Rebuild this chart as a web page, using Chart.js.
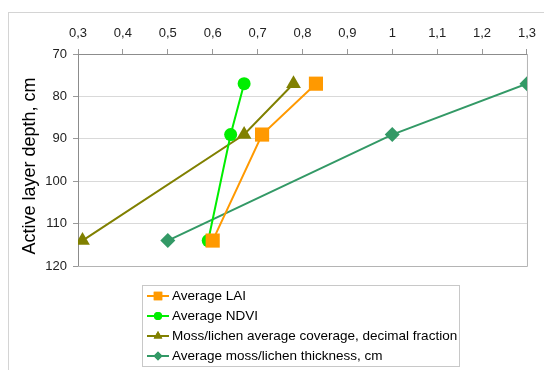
<!DOCTYPE html>
<html>
<head>
<meta charset="utf-8">
<script src="https://cdn.jsdelivr.net/npm/chart.js@4.4.1/dist/chart.umd.min.js"></script>
<style>
  html, body { margin: 0; padding: 0; background: #fff; }
  #wrap { position: relative; width: 544px; height: 370px; }
</style>
</head>
<body>
<div id="wrap"><canvas id="c" width="544" height="370"></canvas></div>
<script>
// Active layer depth (cm) at the three sites
const depths = [77, 89, 114];

// Vegetation / cover indicators at each depth
const avgLAI = [0.83, 0.71, 0.60];
const avgNDVI = [0.67, 0.64, 0.59];
const mossCoverage = [0.78, 0.67, 0.31];
const mossThickness = [1.3, 1.0, 0.5];

const seriesNames = [
  'Average LAI',
  'Average NDVI',
  'Moss/lichen average coverage, decimal fraction',
  'Average moss/lichen thickness, cm'
];

const yTitle = 'Active layer depth, cm';

const xTicks = { min: 0.3, max: 1.3, step: 0.1 };
const yTicks = { min: 70, max: 120, step: 10 };

const toPoints = vals => vals.map((v, i) => ({ x: v, y: depths[i] }));

const styles = [
  { color: '#FF9900', pointStyle: 'rect', pointRadius: 10, legendRadius: 6 },
  { color: '#00EE00', pointStyle: 'circle', pointRadius: 6.5, legendRadius: 4 },
  { color: '#808000', pointStyle: 'triangle', pointRadius: 8.5, legendRadius: 5 },
  { color: '#339966', pointStyle: 'rectRot', pointRadius: 7.5, legendRadius: 4.5 }
];

const seriesValues = [avgLAI, avgNDVI, mossCoverage, mossThickness];

const datasets = seriesValues.map((vals, i) => ({
  label: seriesNames[i],
  data: toPoints(vals),
  borderColor: styles[i].color,
  backgroundColor: styles[i].color,
  borderWidth: 2,
  pointStyle: styles[i].pointStyle,
  pointRadius: styles[i].pointRadius,
  pointHoverRadius: styles[i].pointRadius,
  pointBorderWidth: 0,
  legendRadius: styles[i].legendRadius,
  tension: 0
}));

const FONT = '"Liberation Sans", Arial, sans-serif';

// Outer frame, plot border, axis title and the boxed legend below the plot
const framePlugin = {
  id: 'frame',
  beforeDraw(chart) {
    const ctx = chart.ctx;
    ctx.save();
    ctx.strokeStyle = '#d4d4d4';
    ctx.lineWidth = 1;
    ctx.strokeRect(8.5, 12.5, 700, 500);
    ctx.restore();
  },
  beforeDatasetsDraw(chart) {
    const { ctx, chartArea: a } = chart;
    ctx.save();
    ctx.strokeStyle = '#b4b4b4';
    ctx.lineWidth = 1;
    ctx.beginPath();
    ctx.moveTo(a.right + 0.5, a.top);
    ctx.lineTo(a.right + 0.5, a.bottom + 0.5);
    ctx.lineTo(a.left, a.bottom + 0.5);
    ctx.stroke();
    ctx.restore();
  },
  afterDraw(chart) {
    const ctx = chart.ctx;
    ctx.save();
    // vertical axis title
    ctx.translate(30, 166);
    ctx.rotate(-Math.PI / 2);
    ctx.font = '18px ' + FONT;
    ctx.fillStyle = '#000';
    ctx.textAlign = 'center';
    ctx.textBaseline = 'middle';
    ctx.fillText(yTitle, 0, 0);
    ctx.restore();

    const box = { x: 142.5, y: 285.5, w: 317, h: 81 };
    ctx.save();
    ctx.fillStyle = '#fff';
    ctx.fillRect(box.x, box.y, box.w, box.h);
    ctx.strokeStyle = '#c8c8c8';
    ctx.lineWidth = 1;
    ctx.strokeRect(box.x, box.y, box.w, box.h);
    ctx.font = '13.5px ' + FONT;
    ctx.textBaseline = 'middle';
    chart.data.datasets.forEach((ds, i) => {
      const cy = 296 + i * 20;
      ctx.strokeStyle = ds.borderColor;
      ctx.lineWidth = 2;
      ctx.beginPath();
      ctx.moveTo(147, cy);
      ctx.lineTo(169, cy);
      ctx.stroke();
      ctx.fillStyle = ds.backgroundColor;
      Chart.helpers.drawPoint(ctx, {
        pointStyle: ds.pointStyle,
        radius: ds.legendRadius,
        rotation: 0,
        borderWidth: 0
      }, 158, cy);
      ctx.fill();
      ctx.fillStyle = '#000';
      ctx.fillText(ds.label, 172, cy + 0.5);
    });
    ctx.restore();
  }
};

const fmtX = v => {
  const r = Math.round(v * 10) / 10;
  return String(r).replace('.', ',');
};

new Chart(document.getElementById('c'), {
  type: 'line',
  data: { datasets },
  plugins: [framePlugin],
  options: {
    responsive: false,
    animation: false,
    events: [],
    layout: { padding: { left: 0, right: 15, top: 0, bottom: 104 } },
    plugins: {
      legend: { display: false },
      tooltip: { enabled: false }
    },
    scales: {
      x: {
        type: 'linear',
        position: 'top',
        min: xTicks.min,
        max: xTicks.max,
        afterFit: s => { s.height = 54; },
        afterBuildTicks: s => {
          const t = [];
          for (let v = xTicks.min; v <= xTicks.max + 1e-9; v += xTicks.step) t.push({ value: Math.round(v * 10) / 10 });
          s.ticks = t;
        },
        ticks: {
          callback: fmtX,
          color: '#222',
          padding: 8,
          maxRotation: 0,
          autoSkip: false,
          font: { family: FONT, size: 13 }
        },
        grid: {
          drawOnChartArea: false,
          drawTicks: true,
          tickLength: 5,
          tickColor: '#999',
          color: '#999'
        },
        border: { display: true, color: '#8c8c8c', width: 1 }
      },
      y: {
        type: 'linear',
        reverse: true,
        min: yTicks.min,
        max: yTicks.max,
        afterFit: s => { s.width = 78; },
        ticks: {
          stepSize: yTicks.step,
          color: '#222',
          padding: 6,
          font: { family: FONT, size: 13 }
        },
        grid: {
          color: '#d9d9d9',
          lineWidth: 1,
          drawTicks: true,
          tickLength: 5,
          tickColor: '#999'
        },
        border: { display: true, color: '#8c8c8c', width: 1 }
      }
    }
  }
});
</script>
</body>
</html>
